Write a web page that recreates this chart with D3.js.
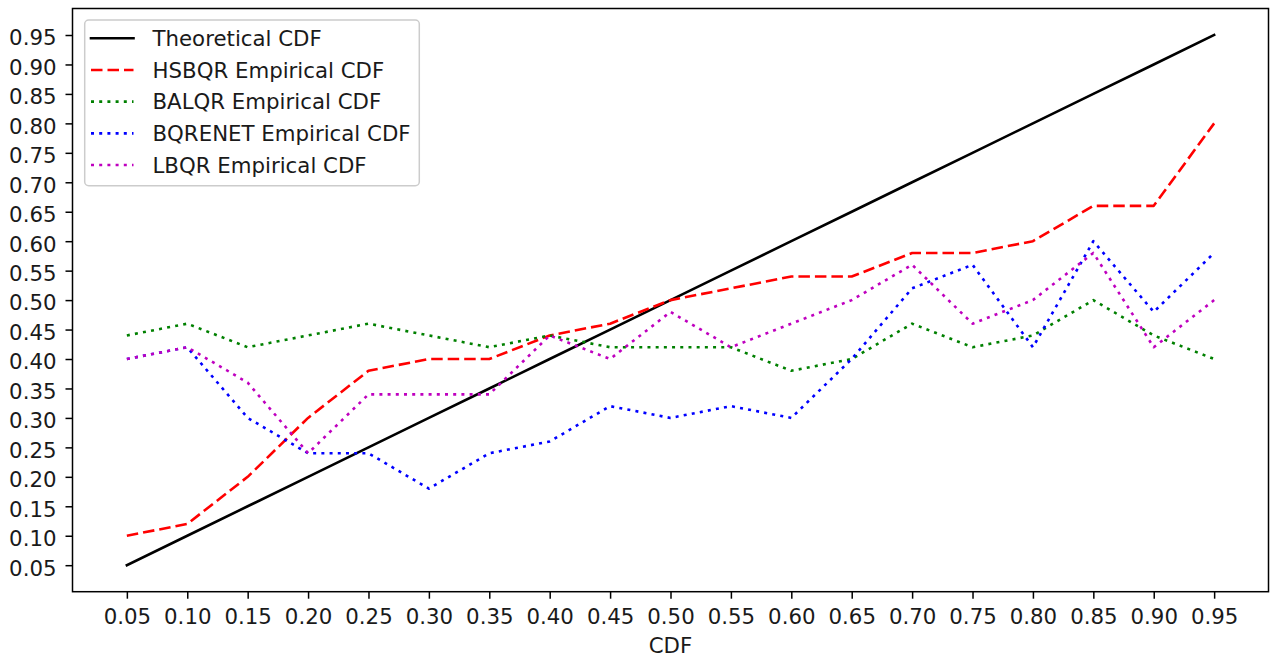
<!DOCTYPE html>
<html>
<head>
<meta charset="utf-8">
<script src="https://cdn.jsdelivr.net/npm/d3@7"></script>
<style>
  html, body { margin: 0; padding: 0; background: #ffffff; }
  svg { display: block; }
  text { font-family: "DejaVu Sans", sans-serif; fill: #1a1a1a; }
</style>
</head>
<body>
<svg id="chart" width="1272" height="660"></svg>
<script>
// Quantile levels on the x axis
const levels = [0.05, 0.10, 0.15, 0.20, 0.25, 0.30, 0.35, 0.40, 0.45, 0.50,
                0.55, 0.60, 0.65, 0.70, 0.75, 0.80, 0.85, 0.90, 0.95];

// Theoretical CDF (identity)
const theoretical = [0.05, 0.10, 0.15, 0.20, 0.25, 0.30, 0.35, 0.40, 0.45, 0.50,
                     0.55, 0.60, 0.65, 0.70, 0.75, 0.80, 0.85, 0.90, 0.95];

// Empirical coverage per method
const hsbqr   = [0.10, 0.12, 0.20, 0.30, 0.38, 0.40, 0.40, 0.44, 0.46, 0.50,
                 0.52, 0.54, 0.54, 0.58, 0.58, 0.60, 0.66, 0.66, 0.80];
const balqr   = [0.44, 0.46, 0.42, 0.44, 0.46, 0.44, 0.42, 0.44, 0.42, 0.42,
                 0.42, 0.38, 0.40, 0.46, 0.42, 0.44, 0.50, 0.44, 0.40];
const bqrenet = [0.40, 0.42, 0.30, 0.24, 0.24, 0.18, 0.24, 0.26, 0.32, 0.30,
                 0.32, 0.30, 0.40, 0.52, 0.56, 0.42, 0.60, 0.48, 0.58];
const lbqr    = [0.40, 0.42, 0.36, 0.24, 0.34, 0.34, 0.34, 0.44, 0.40, 0.48,
                 0.42, 0.46, 0.50, 0.56, 0.46, 0.50, 0.58, 0.42, 0.50];

// Tick values shared by both axes
const tickValues = [0.05, 0.10, 0.15, 0.20, 0.25, 0.30, 0.35, 0.40, 0.45, 0.50,
                    0.55, 0.60, 0.65, 0.70, 0.75, 0.80, 0.85, 0.90, 0.95];

const seriesNames = ["Theoretical CDF", "HSBQR Empirical CDF", "BALQR Empirical CDF",
                     "BQRENET Empirical CDF", "LBQR Empirical CDF"];
const seriesValues = [theoretical, hsbqr, balqr, bqrenet, lbqr];

// Line styles (solid, dashed, dotted)
const styles = [
  { color: "#000000", dash: null },
  { color: "#ff0000", dash: "11.5,5" },
  { color: "#008000", dash: "3,5.2" },
  { color: "#0000ff", dash: "3,5.2" },
  { color: "#bf00bf", dash: "3,5.2" }
];

const svg = d3.select("#chart");
const plot = { left: 72.5, right: 1268.5, top: 8.5, bottom: 591.7 };

// 5% padding around the data range on each axis
const allY = seriesValues.flat();
const xMin = d3.min(levels), xMax = d3.max(levels);
const yMin = d3.min(allY), yMax = d3.max(allY);
const xPad = (xMax - xMin) * 0.05, yPad = (yMax - yMin) * 0.05;

const x = d3.scaleLinear().domain([xMin - xPad, xMax + xPad]).range([plot.left, plot.right]);
const y = d3.scaleLinear().domain([yMin - yPad, yMax + yPad]).range([plot.bottom, plot.top]);

const fmt = d3.format(".2f");
const fontSize = 21.3;

// Series lines
const line = d3.line().x(d => x(d[0])).y(d => y(d[1]));
seriesValues.forEach((vals, i) => {
  const st = styles[i];
  svg.append("path")
    .datum(levels.map((l, j) => [l, vals[j]]))
    .attr("d", line)
    .attr("fill", "none")
    .attr("stroke", st.color)
    .attr("stroke-width", 2.6)
    .attr("stroke-linejoin", "round")
    .attr("stroke-linecap", st.dash ? "butt" : "square")
    .attr("stroke-dasharray", st.dash);
});

// Axes
const xAxis = d3.axisBottom(x).tickValues(tickValues).tickFormat(fmt).tickSizeOuter(0).tickSize(7).tickPadding(5);
const yAxis = d3.axisLeft(y).tickValues(tickValues).tickFormat(fmt).tickSizeOuter(0).tickSize(7).tickPadding(5);

const gx = svg.append("g").attr("transform", `translate(0,${plot.bottom})`).call(xAxis);
const gy = svg.append("g").attr("transform", `translate(${plot.left},0)`).call(yAxis);
[gx, gy].forEach(g => {
  g.select(".domain").remove();
  g.selectAll(".tick line").attr("stroke", "#000").attr("stroke-width", 1.5);
  g.selectAll(".tick text")
    .attr("font-family", "DejaVu Sans, sans-serif")
    .attr("font-size", fontSize)
    .attr("fill", "#1a1a1a");
});
gx.selectAll(".tick text").attr("dy", null).attr("y", 32.3);
gy.selectAll(".tick text").attr("dy", null).attr("x", -16).attr("y", 9.8);

// Frame
svg.append("rect")
  .attr("x", plot.left).attr("y", plot.top)
  .attr("width", plot.right - plot.left).attr("height", plot.bottom - plot.top)
  .attr("fill", "none").attr("stroke", "#000").attr("stroke-width", 1.5);

// X axis label
svg.append("text")
  .attr("x", (plot.left + plot.right) / 2).attr("y", 653)
  .attr("text-anchor", "middle")
  .attr("font-size", fontSize)
  .text("CDF");

// Legend
const legend = svg.append("g");
legend.append("rect")
  .attr("x", 84.7).attr("y", 20).attr("width", 334.6).attr("height", 165.7)
  .attr("rx", 4).attr("ry", 4)
  .attr("fill", "#ffffff").attr("fill-opacity", 0.8)
  .attr("stroke", "#cccccc").attr("stroke-width", 1.5);

const rowY = d3.scaleLinear().domain([0, 4]).range([38.3, 165]);
seriesNames.forEach((name, i) => {
  const st = styles[i];
  const yy = rowY(i);
  legend.append("line")
    .attr("x1", 91).attr("x2", 133.5).attr("y1", yy).attr("y2", yy)
    .attr("stroke", st.color).attr("stroke-width", 2.6)
    .attr("stroke-linecap", st.dash ? "butt" : "square")
    .attr("stroke-dasharray", st.dash);
  legend.append("text")
    .attr("x", 152.5).attr("y", yy + 7.7)
    .attr("font-size", fontSize)
    .text(name);
});
</script>
</body>
</html>
